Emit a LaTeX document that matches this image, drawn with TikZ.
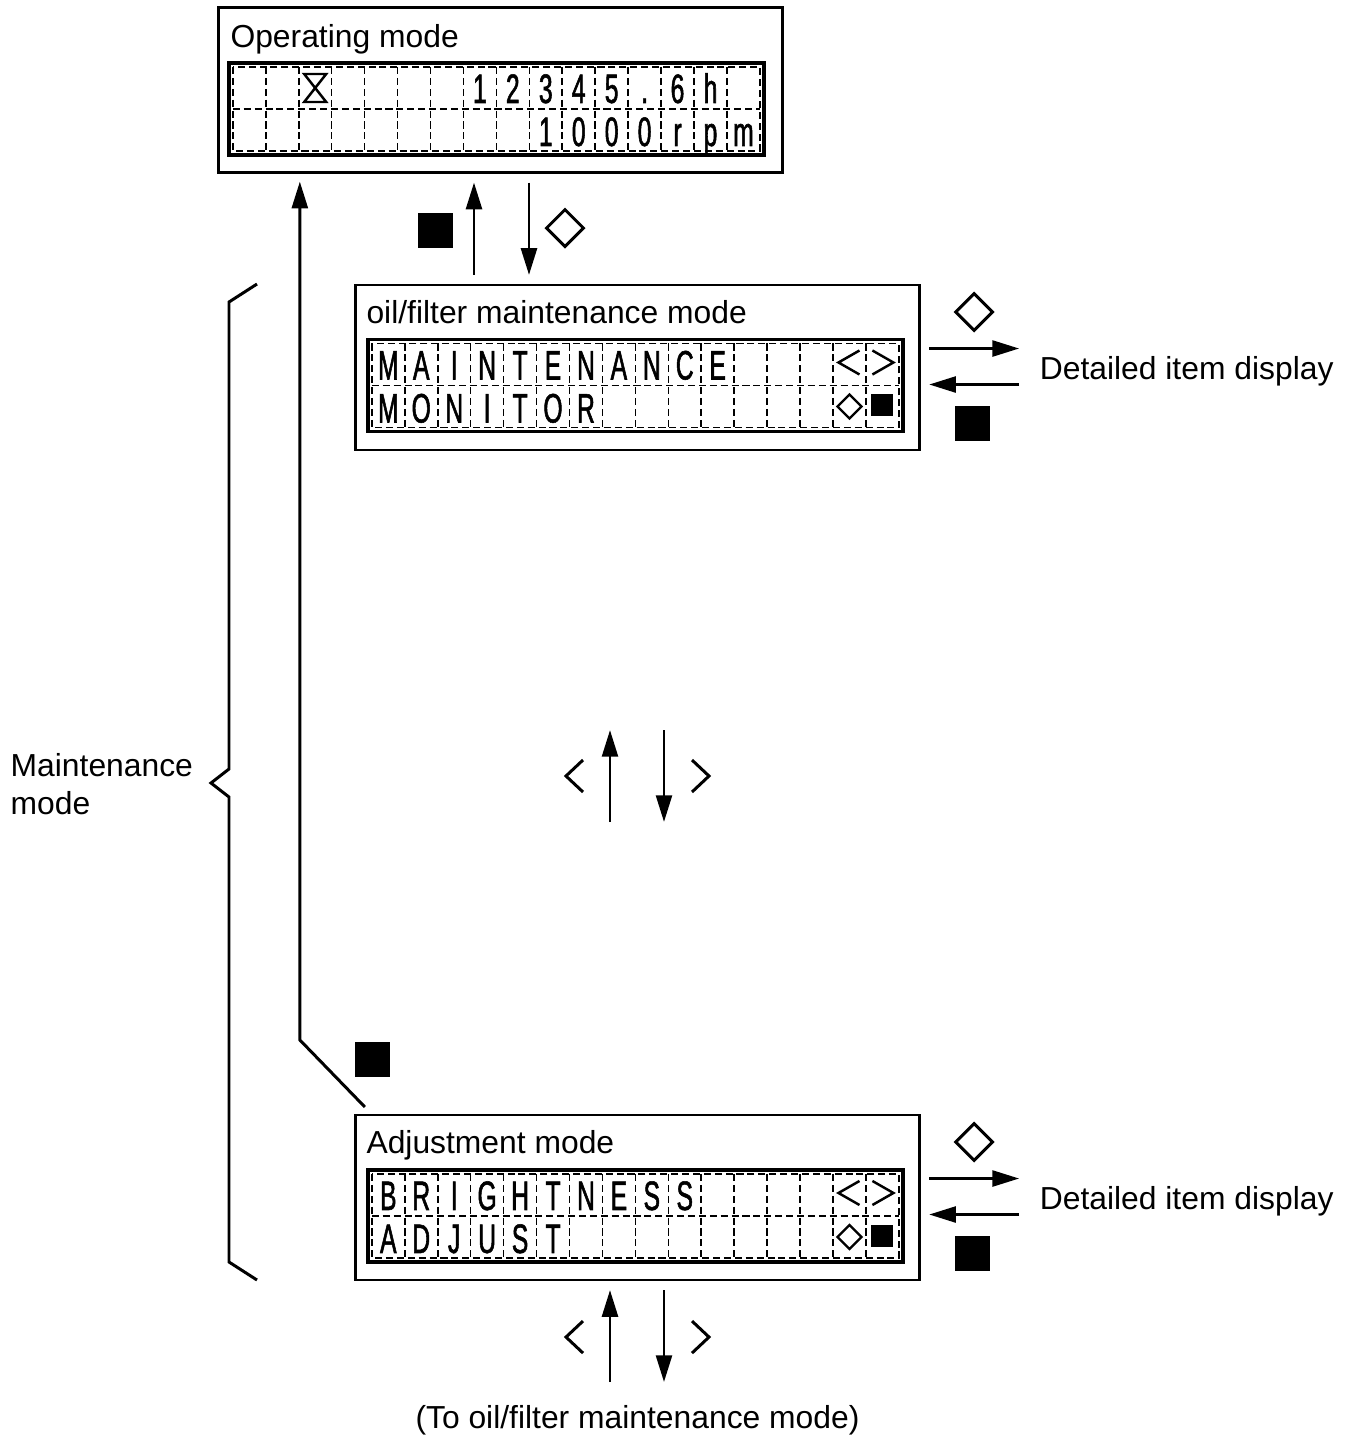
\documentclass[tikz,border=0pt]{standalone}
\usepackage{fontspec}
\setmainfont{Liberation Sans}
\newfontfamily\lcdfont[FakeStretch=0.6, FakeBold=1.3]{Liberation Sans}
\usetikzlibrary{calc, positioning}
\usetikzlibrary{arrows.meta}
\usetikzlibrary{shapes.geometric}

% grid and characters of one display, #1 = display node
\newcommand\lcdrows[3]{%
  \begin{scope}[shift={(#1.north west)}]
    \draw[cell] (4,4) rectangle (531,88);
    \draw[cell] (4,46) -- (531,46);
    \foreach \k in {1,...,15}
      \draw[cell] ({4+\k*\cw},4) -- ({4+\k*\cw},88);
    \foreach \c [count=\k] in {#2}
      \node[lcdchar] (#1-a\k) at ({4+(\k-0.5)*\cw},40) {\c};
    \foreach \c [count=\k] in {#3}
      \node[lcdchar] (#1-b\k) at ({4+(\k-0.5)*\cw},83) {\c};
  \end{scope}}

\begin{document}
\begin{tikzpicture}[x=0.01cm, y=-0.01cm]
\def\cw{32.94}
\tikzset{
  modebox/.style={draw, line width=0.8pt, minimum width=5.63cm, minimum height=1.65cm, inner sep=0, outer sep=0},
  lcd/.style={draw, line width=1.1pt, minimum width=5.35cm, minimum height=0.92cm, inner sep=0, outer sep=0},
  cell/.style={line width=0.45pt, dash pattern=on 2pt off 1.1pt},
  lcdchar/.style={anchor=base, inner sep=0, font=\lcdfont\fontsize{11.7}{12}\selectfont},
  lbl/.style={inner sep=0, font=\fontsize{9.05}{10.8}\selectfont},
  arr/.style={line width=0.85pt, -{Triangle[length=7.6pt, width=4.5pt]}},
  glyph/.style={line width=0.85pt},
  keysq/.style={fill, inner sep=0, minimum size=0.35cm},
  keydm/.style={diamond, draw, line width=0.85pt, inner sep=0, minimum size=0.38cm},
  smsq/.style={fill, inner sep=0, minimum size=0.22cm},
  smdm/.style={diamond, draw, line width=0.65pt, inner sep=0, minimum size=0.25cm}
}
\useasboundingbox (0,0) rectangle (1351,1438);

% mode boxes
\node[modebox] (op) at (500.5,90) {};
\node[modebox] (oil) at (637.5,367.5) {};
\node[modebox] (adj) at (637.5,1197.5) {};

\node[lbl, anchor=base west] (op-t) at ($(op.north west)+(11,40)$) {Operating mode};
\node[lbl, anchor=base west] (oil-t) at ($(oil.north west)+(10,39)$) {oil/filter maintenance mode};
\node[lbl, anchor=base west] (adj-t) at ($(adj.north west)+(10,39)$) {Adjustment mode};

\node[lcd] (op-lcd) at ($(op)+(-4,19)$) {};
\node[lcd] (oil-lcd) at ($(oil)+(-2,18)$) {};
\node[lcd] (adj-lcd) at ($(adj)+(-2,18.5)$) {};

\lcdrows{op-lcd}{{},{},{},{},{},{},{},1,2,3,4,5,.,6,h,{}}{{},{},{},{},{},{},{},{},{},1,0,0,0,r,p,m}
\lcdrows{oil-lcd}{M,A,I,N,T,E,N,A,N,C,E,{},{},{},{},{}}{M,O,N,I,T,O,R,{},{},{},{},{},{},{},{},{}}
\lcdrows{adj-lcd}{B,R,I,G,H,T,N,E,S,S,{},{},{},{},{},{}}{A,D,J,U,S,T,{},{},{},{},{},{},{},{},{},{}}

% symbols inside the displays
\draw[line width=0.7pt] ($(op-lcd-a3.base)+(-11,-29)$) -- ++(22,0) -- ++(-22,28) -- ++(22,0) -- cycle;
\foreach \d in {oil-lcd, adj-lcd} {
  \draw[line width=0.7pt] ($(\d-a15.base)+(10,-29)$) -- ++(-21,12) -- ++(21,12);
  \draw[line width=0.7pt] ($(\d-a16.base)+(-10,-29)$) -- ++(21,12) -- ++(-21,12);
  \node[smdm] (\d-dm) at ($(\d-b15.base)+(0,-16)$) {};
  \node[smsq] (\d-sq) at ($(\d-b16.base)+(0,-17)$) {};
}

% operating <-> oil/filter
\draw[arr] ($(oil.north)+(-163.5,-10)$) -- ($(op.south)+(-26.5,10)$);
\draw[arr] ($(op.south)+(28.5,10)$) -- ($(oil.north)+(-108.5,-10)$);
\node[keysq] (sq1) at (435.5,230) {};
\node[keydm] (dm1) at (565,228) {};

% detailed item display
\foreach \b/\n in {oil/1, adj/2} {
  \node[keydm] (dm-r\n) at ($(\b.east)+(55,-55.5)$) {};
  \draw[arr] ($(\b.east)+(10,-19)$) -- ($(\b.east)+(100,-19)$);
  \draw[arr] ($(\b.east)+(100,17)$) -- ($(\b.east)+(10,17)$);
  \node[keysq] (sq-r\n) at ($(\b.east)+(53.5,56)$) {};
  \node[lbl, anchor=base west] (det\n) at ($(\b.east)+(120,12)$) {Detailed item display};
}

% scrolling between modes
\coordinate (gap) at (637,776);
\draw[arr] ($(gap)+(-27,46)$) -- ($(gap)+(-27,-46)$);
\draw[arr] ($(gap)+(27,-46)$) -- ($(gap)+(27,46)$);
\draw[glyph] ($(gap)+(-54,-16)$) -- ++(-17,16) -- ++(17,16);
\draw[glyph] ($(gap)+(55,-16)$) -- ++(17,16) -- ++(-17,16);

\draw[arr] ($(adj.south)+(-27.5,102)$) -- ($(adj.south)+(-27.5,10)$);
\draw[arr] ($(adj.south)+(26.5,10)$) -- ($(adj.south)+(26.5,102)$);
\draw[glyph] ($(adj.south)+(-54.5,41)$) -- ++(-17,16) -- ++(17,16);
\draw[glyph] ($(adj.south)+(54.5,41)$) -- ++(17,16) -- ++(-17,16);
\node[lbl, anchor=base] (back) at ($(adj.south)+(0,148)$) {(To oil/filter maintenance mode)};

% adjustment -> operating
\draw[arr] ($(adj.north west)+(9,-8)$) -- ++(-65,-67) -- ($(op.south west)+(81,9)$);
\node[keysq] (sq5) at (372.5,1059.5) {};

% brace
\draw[glyph] (257,284) -- (229,302) -- (229,769) -- (211,783) -- (229,797) -- (229,1262) -- (257,1280);
\node[lbl, anchor=base west, align=left] (mnt) at (10,814) {Maintenance\\mode};
\end{tikzpicture}
\end{document}
